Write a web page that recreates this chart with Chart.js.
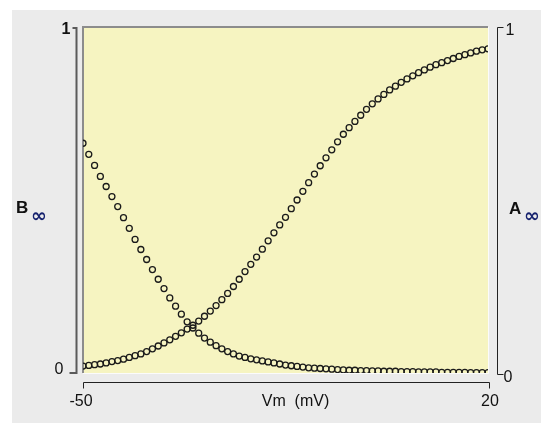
<!DOCTYPE html>
<html>
<head>
<meta charset="UTF-8">
<title>A / B steady state</title>
<script src="https://cdn.jsdelivr.net/npm/chart.js"></script>
<style>
	body { margin: 0; background: #fff; }
	#box { width: 541px; height: 424px; }
</style>
</head>
<body>
<div id="box"><canvas id="gateChart" width="541" height="424"></canvas></div>

<script>
	// membrane potential, 1 mV steps
	const vm = [];
	for (let v = -50; v <= 20; v++) vm.push(v);

	// activation A-infinity (right axis)
	const aInf = [
		0.020, 0.022, 0.024, 0.026, 0.029, 0.033, 0.036, 0.040, 0.045, 0.050,
		0.055, 0.062, 0.070, 0.078, 0.087, 0.096, 0.106, 0.116, 0.127, 0.138,
		0.150, 0.164, 0.179, 0.195, 0.212, 0.230, 0.250, 0.271, 0.293, 0.314,
		0.335, 0.358, 0.382, 0.405, 0.428, 0.450, 0.475, 0.500, 0.525, 0.550,
		0.575, 0.599, 0.622, 0.645, 0.668, 0.690, 0.709, 0.727, 0.745, 0.762,
		0.778, 0.792, 0.805, 0.818, 0.829, 0.840, 0.850, 0.859, 0.868, 0.876,
		0.884, 0.891, 0.897, 0.903, 0.909, 0.915, 0.920, 0.925, 0.930, 0.934,
		0.937
	];

	// inactivation B-infinity (left axis)
	const bInf = [
		0.664, 0.632, 0.600, 0.568, 0.539, 0.510, 0.481, 0.449, 0.418, 0.386,
		0.357, 0.328, 0.299, 0.271, 0.244, 0.217, 0.193, 0.170, 0.148, 0.130,
		0.115, 0.101, 0.089, 0.079, 0.070, 0.062, 0.055, 0.049, 0.045, 0.041,
		0.038, 0.035, 0.032, 0.029, 0.026, 0.023, 0.021, 0.019, 0.017, 0.015,
		0.014, 0.013, 0.012, 0.011, 0.010, 0.009, 0.008, 0.008, 0.007, 0.007,
		0.006, 0.006, 0.005, 0.005, 0.005, 0.004, 0.004, 0.004, 0.003, 0.003,
		0.003, 0.003, 0.002, 0.002, 0.002, 0.002, 0.002, 0.001, 0.001, 0.001,
		0.001
	];

	const xTicks = [-50, 20];
	const yTicks = [0, 1];

	const FONT = '"Liberation Sans", Arial, sans-serif';

	// background, plot panel and the detached axes
	const frame = {
		id: 'frame',
		beforeDraw(chart) {
			const c = chart.ctx, a = chart.chartArea;
			c.save();
			c.fillStyle = '#ffffff';
			c.fillRect(0, 0, chart.width, chart.height);
			c.fillStyle = '#ebebeb';
			c.fillRect(12, 10, chart.width - 12, chart.height - 11);
			c.fillStyle = '#f6f4c1';
			c.fillRect(a.left, a.top, a.right - a.left, a.bottom - a.top);
			// sunken edge
			c.strokeStyle = '#8c8c8c';
			c.lineWidth = 2;
			c.beginPath();
			c.moveTo(a.left, a.bottom);
			c.lineTo(a.left, a.top);
			c.lineTo(a.right, a.top);
			c.stroke();
			c.strokeStyle = '#fbfbfb';
			c.lineWidth = 1;
			c.beginPath();
			c.moveTo(a.right + 0.5, a.top);
			c.lineTo(a.right + 0.5, a.bottom + 0.5);
			c.lineTo(a.left, a.bottom + 0.5);
			c.stroke();
			c.restore();
		},
		afterDraw(chart) {
			const c = chart.ctx, a = chart.chartArea;
			const sx = chart.scales.x, sl = chart.scales.yB, sr = chart.scales.yA;
			c.save();
			c.font = '16px ' + FONT;
			c.fillStyle = '#111';

			// left axis
			const lx = a.left - 6.5;
			const lTop = sl.getPixelForValue(yTicks[1]), lBot = sl.getPixelForValue(yTicks[0]);
			c.strokeStyle = '#5a5a5a';
			c.lineWidth = 2;
			c.beginPath();
			c.moveTo(lx - 4, lTop + 1);
			c.lineTo(lx, lTop + 1);
			c.lineTo(lx, lBot);
			c.lineTo(lx - 7, lBot);
			c.stroke();
			c.textAlign = 'right';
			c.textBaseline = 'middle';
			c.font = 'bold 16px ' + FONT;
			c.fillText(String(yTicks[1]), lx - 6, lTop + 3);
			c.font = '16px ' + FONT;
			c.fillText(String(yTicks[0]), lx - 13, lBot - 3);

			// right axis
			const rx = a.right + 9.5;
			const rTop = sr.getPixelForValue(yTicks[1]), rBot = sr.getPixelForValue(yTicks[0]) + 1;
			c.strokeStyle = '#222';
			c.lineWidth = 1;
			c.beginPath();
			c.moveTo(rx + 6, rTop + 0.5);
			c.lineTo(rx, rTop + 0.5);
			c.lineTo(rx, rBot + 0.5);
			c.lineTo(rx + 6, rBot + 0.5);
			c.stroke();
			c.textAlign = 'left';
			c.fillText(String(yTicks[1]), rx + 8, rTop + 4);
			c.fillText(String(yTicks[0]), rx + 6, rBot + 4);

			// bottom axis
			const by = a.bottom + 9.5;
			const bl = sx.getPixelForValue(xTicks[0]), br = sx.getPixelForValue(xTicks[1]) + 1;
			c.beginPath();
			c.moveTo(bl + 0.5, by + 6);
			c.lineTo(bl + 0.5, by);
			c.lineTo(br + 0.5, by);
			c.lineTo(br + 0.5, by + 6);
			c.stroke();
			c.textAlign = 'center';
			c.fillText(String(xTicks[0]), bl - 2, by + 19);
			c.fillText(String(xTicks[1]), br + 1, by + 19);
			c.fillText('Vm  (mV)', (a.left + a.right) / 2 + 10, by + 19);

			// axis names
			c.textAlign = 'left';
			c.font = 'bold 17px ' + FONT;
			c.fillText('B', 16, 208);
			c.fillText('A', 509, 209);
			c.fillStyle = '#16226e';
			c.font = 'bold 19px "DejaVu Sans", sans-serif';
			c.fillText('\u221E', 31, 217);
			c.fillText('\u221E', 524, 217);
			c.restore();
		}
	};

	const ptStyle = {
		showLine: false,
		pointRadius: 3,
		pointBorderWidth: 1.3,
		pointBorderColor: '#1a1a1a',
		pointBackgroundColor: 'rgba(0,0,0,0)',
		pointHoverRadius: 3
	};

	const ctx = document.getElementById('gateChart').getContext('2d');
	const gateChart = new Chart(ctx, {
		type: 'scatter',
		data: {
			datasets: [
				Object.assign({ label: 'B', yAxisID: 'yB', data: vm.map((v, i) => ({ x: v, y: bInf[i] })) }, ptStyle),
				Object.assign({ label: 'A', yAxisID: 'yA', data: vm.map((v, i) => ({ x: v, y: aInf[i] })) }, ptStyle)
			]
		},
		options: {
			responsive: false,
			animation: false,
			layout: { padding: { left: 83, top: 27, right: 53, bottom: 51 } },
			scales: {
				x: { type: 'linear', min: -50, max: 20, display: false },
				yB: { type: 'linear', position: 'left', min: 0, max: 1, display: false },
				yA: { type: 'linear', position: 'right', min: 0, max: 1, display: false }
			},
			plugins: {
				legend: { display: false },
				tooltip: { enabled: false }
			}
		},
		plugins: [frame]
	});
</script>
</body>
</html>
